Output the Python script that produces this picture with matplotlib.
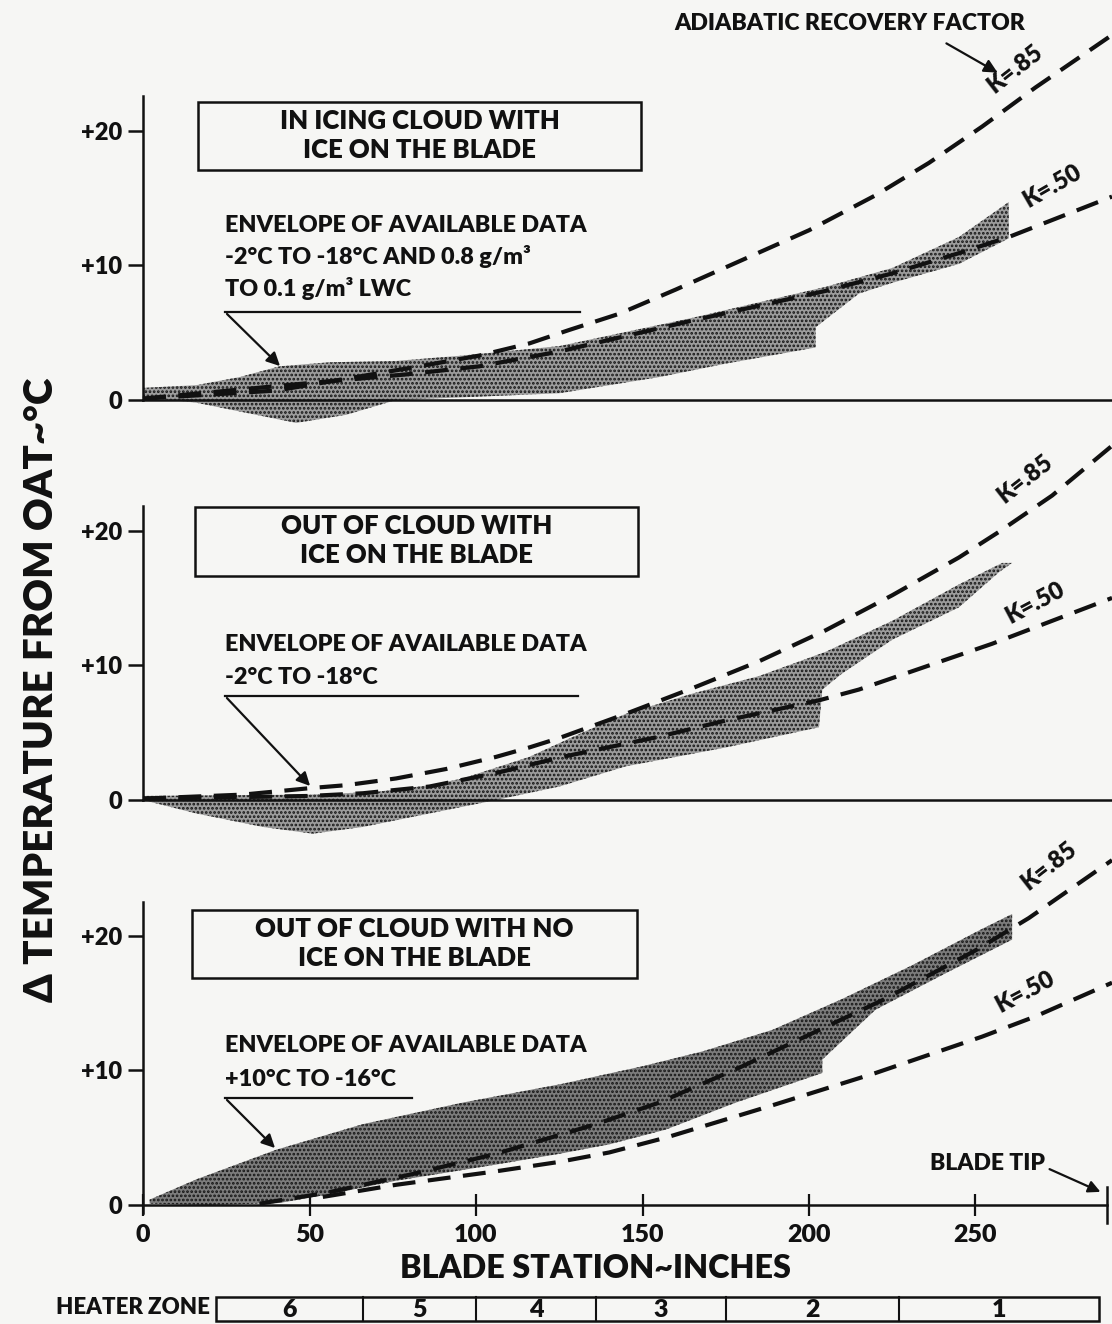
import matplotlib
matplotlib.use('Agg')
import matplotlib.pyplot as plt
import matplotlib.patches as mpatches
from matplotlib.lines import Line2D

plt.rcParams['font.family'] = ['Lato', 'DejaVu Sans']
plt.rcParams['font.weight'] = 'heavy'
plt.rcParams['hatch.linewidth'] = 1.3

# ---- data (blade station in inches, delta T in deg C) ----
# panel 1: in icing cloud with ice on the blade
k85_x1 = [0, 40, 83, 101, 116, 128, 143, 160, 180, 200, 220, 236, 252, 268, 291]
k85_y1 = [0.1, 0.7, 2.5, 3.3, 4.2, 5.2, 6.4, 8.2, 10.4, 12.6, 15.2, 17.6, 20.3, 23.2, 27.1]
k50_x1 = [0, 43, 79, 101, 125, 165, 205, 225, 245, 260, 291]
k50_y1 = [0.1, 1.1, 1.9, 2.5, 3.6, 5.9, 8.1, 9.4, 10.9, 12.1, 15.1]
env_x1 = [0, 16, 29, 41, 56, 76, 96, 125, 165, 205, 225, 245, 260,
          260, 245, 225, 215, 202, 202, 175, 155, 125, 96, 76, 61, 46, 36, 16, 0]
env_y1 = [0.9, 1.1, 1.7, 2.5, 2.8, 2.9, 3.3, 4.0, 6.1, 8.4, 9.8, 12.1, 14.7,
          12.0, 10.1, 8.7, 7.9, 5.4, 3.9, 2.7, 1.7, 0.5, 0.2, 0.0, -1.1, -1.7, -1.2, -0.2, 0.2]

# panel 2: out of cloud with ice on the blade
k85_x2 = [0, 30, 51, 61, 76, 91, 106, 116, 125, 145, 165, 185, 205, 225, 245, 257, 273, 291]
k85_y2 = [0.1, 0.4, 0.9, 1.1, 1.6, 2.3, 3.2, 3.9, 4.6, 6.4, 8.3, 10.3, 12.6, 15.2, 18.0, 19.9, 22.6, 26.3]
k50_x2 = [0, 50, 66, 86, 106, 126, 155, 175, 203, 215, 235, 255, 291]
k50_y2 = [0.1, 0.3, 0.5, 1.0, 2.0, 3.2, 4.7, 5.9, 7.4, 8.2, 9.9, 11.6, 15.0]
env_x2 = [0, 50, 70, 86, 96, 116, 131, 145, 165, 185, 205, 225, 245, 258, 261,
          257, 245, 225, 210, 204, 203, 175, 145, 125, 106, 86, 66, 51, 36, 16, 0]
env_y2 = [0.3, 0.4, 0.6, 1.1, 1.6, 3.2, 4.9, 6.4, 7.9, 9.2, 11.0, 13.3, 16.0, 17.6, 17.6,
          16.9, 14.3, 11.9, 9.4, 8.2, 5.4, 3.9, 2.5, 1.0, 0.0, -1.0, -2.0, -2.5, -2.0, -1.0, 0.0]

# panel 3: out of cloud with no ice on the blade
k85_x3 = [35, 55, 81, 106, 121, 136, 155, 180, 222, 250, 266, 291]
k85_y3 = [0.1, 0.9, 2.3, 3.8, 4.9, 6.0, 7.6, 10.3, 15.2, 18.9, 21.3, 25.6]
k50_x3 = [54, 76, 106, 125, 140, 157, 189, 220, 252, 268, 291]
k50_y3 = [0.6, 1.5, 2.5, 3.2, 3.9, 5.0, 7.4, 9.8, 12.5, 14.0, 16.5]
env_x3 = [2, 16, 40, 66, 96, 126, 150, 168, 189, 210, 231, 252, 261,
          261, 241, 220, 204, 204, 178, 157, 140, 125, 106, 76, 56, 41, 20, 2]
env_y3 = [0.4, 1.9, 4.1, 6.0, 7.6, 9.0, 10.3, 11.4, 13.0, 15.3, 17.8, 20.5, 21.6,
          19.7, 17.2, 14.5, 10.8, 9.8, 7.6, 5.6, 4.5, 3.8, 3.0, 1.8, 0.8, 0.15, 0.0, 0.1]

titles = [['IN ICING CLOUD WITH', 'ICE ON THE BLADE'],
          ['OUT OF CLOUD WITH', 'ICE ON THE BLADE'],
          ['OUT OF CLOUD WITH NO', 'ICE ON THE BLADE']]
notes = [['ENVELOPE OF AVAILABLE DATA', '-2°C TO -18°C AND 0.8 g/m³', 'TO 0.1 g/m³ LWC'],
         ['ENVELOPE OF AVAILABLE DATA', '-2°C TO -18°C'],
         ['ENVELOPE OF AVAILABLE DATA', '+10°C TO -16°C']]
ytick_vals = [0, 10, 20]
ytick_labels = ['0', '+10', '+20']
xtick_vals = [0, 50, 100, 150, 200, 250]
blade_tip = 289.5
zone_edges = [22, 66, 100, 136, 175, 227, 287]
zone_names = ['6', '5', '4', '3', '2', '1']

# ---- layout (pixels of the 1112 x 1324 figure) ----
W, H = 1112, 1324
PX0, SX, SY = 143, 3.33, 13.47
XMAX = 291
YMIN, YMAX = -3, 28
INK = '#111111'


def fx(px):
    return px / W


def fy(py):
    return 1 - py / H


fig = plt.figure(figsize=(W / 100, H / 100), dpi=100)
fig.patch.set_facecolor('#f6f6f4')


def make_panel(y0, spine_top, spine_bot, line_end):
    bot = y0 - YMIN * SY
    top = y0 - YMAX * SY
    ax = fig.add_axes([fx(PX0), fy(bot), XMAX * SX / W, (bot - top) / H])
    ax.set_xlim(0, XMAX)
    ax.set_ylim(YMIN, YMAX)
    ax.patch.set_alpha(0)
    ax.spines['top'].set_visible(False)
    ax.spines['right'].set_visible(False)
    ax.spines['left'].set_bounds(spine_bot, spine_top)
    ax.spines['left'].set_linewidth(1.8)
    ax.spines['left'].set_color(INK)
    ax.spines['bottom'].set_position(('data', 0))
    ax.spines['bottom'].set_bounds(0, line_end)
    ax.spines['bottom'].set_linewidth(1.8)
    ax.spines['bottom'].set_color(INK)
    ax.set_yticks(ytick_vals)
    ax.set_yticklabels(ytick_labels)
    ax.tick_params(axis='y', length=11, width=1.8, direction='out', pad=4,
                   labelsize=17, colors=INK)
    return ax


def draw_data(ax, ex, ey, k85x, k85y, k50x, k50y, shade):
    ax.fill(ex, ey, facecolor=shade, edgecolor='#151515', hatch='....',
            linewidth=0, zorder=1)
    dash = (0, (5.5, 3))
    ax.plot(k85x, k85y, color=INK, lw=3.0, linestyle=dash, zorder=2, clip_on=False)
    ax.plot(k50x, k50y, color=INK, lw=3.0, linestyle=dash, zorder=2, clip_on=False)


ax1 = make_panel(400, 22.6, 0, XMAX)
ax2 = make_panel(800, 21.8, 0, XMAX)
ax3 = make_panel(1205, 22.5, -0.6, blade_tip)
for ax in (ax1, ax2):
    ax.set_xticks([])

draw_data(ax1, env_x1, env_y1, k85_x1, k85_y1, k50_x1, k50_y1, '#9c9c9c')
draw_data(ax2, env_x2, env_y2, k85_x2, k85_y2, k50_x2, k50_y2, '#9c9c9c')
draw_data(ax3, env_x3, env_y3, k85_x3, k85_y3, k50_x3, k50_y3, '#7c7c7c')

ax3.set_xticks(xtick_vals)
ax3.set_xticklabels([str(v) for v in xtick_vals])
ax3.tick_params(axis='x', length=16, width=1.6, direction='inout', pad=6,
                labelsize=18, colors=INK)
ax3.plot([blade_tip, blade_tip], [-1.3, 1.3], color=INK, lw=1.8, clip_on=False)

# K labels, set just above their curves
k_labels = [(ax1, 262, 24.6, 'K=.85', 38), (ax1, 273, 15.9, 'K=.50', 30),
            (ax2, 265, 23.8, 'K=.85', 38), (ax2, 268, 14.6, 'K=.50', 28),
            (ax3, 272, 25.2, 'K=.85', 38), (ax3, 265, 15.8, 'K=.50', 28)]
for ax, x, y, s, rot in k_labels:
    ax.text(x, y, s, rotation=rot, ha='center', va='center', fontsize=17,
            color=INK, clip_on=False)

# title boxes
boxes = [(198, 102, 641, 170), (195, 507, 638, 576), (192, 910, 637, 978)]
for (x0, y0, x1, y1), lines in zip(boxes, titles):
    fig.add_artist(mpatches.Rectangle((fx(x0), fy(y1)), (x1 - x0) / W, (y1 - y0) / H,
                                      transform=fig.transFigure, fill=False,
                                      lw=1.8, edgecolor=INK))
    cx = (x0 + x1) / 2
    fig.text(fx(cx), fy(y0 + 19), lines[0], ha='center', va='center', fontsize=18.5, color=INK)
    fig.text(fx(cx), fy(y0 + 48), lines[1], ha='center', va='center', fontsize=18.5, color=INK)

# envelope notes with leader arrows
note_y = [[225, 257, 289], [644, 678], [1046, 1079]]
leaders = [(225, 312, 580, 282, 368), (225, 696, 578, 312, 788), (225, 1098, 412, 277, 1150)]
for lines, ys, (lx0, ly, lx1, tx, ty) in zip(notes, note_y, leaders):
    for s, yy in zip(lines, ys):
        fig.text(fx(225), fy(yy), s, ha='left', va='center', fontsize=16.8, color=INK)
    fig.add_artist(Line2D([fx(lx0), fx(lx1)], [fy(ly), fy(ly)], lw=1.6, color=INK))
    fig.add_artist(mpatches.FancyArrowPatch((fx(lx0), fy(ly)), (fx(tx), fy(ty)),
                                            transform=fig.transFigure, arrowstyle='-|>',
                                            mutation_scale=20, lw=1.6, color=INK))

# adiabatic recovery factor note
fig.text(fx(850), fy(23), 'ADIABATIC RECOVERY FACTOR', ha='center', va='center',
         fontsize=16.6, color=INK)
fig.add_artist(mpatches.FancyArrowPatch((fx(944), fy(42)), (fx(1000), fy(74)),
                                        transform=fig.transFigure, arrowstyle='-|>',
                                        mutation_scale=20, lw=1.6, color=INK))

# blade tip note
fig.text(fx(988), fy(1163), 'BLADE TIP', ha='center', va='center', fontsize=16.5, color=INK)
fig.add_artist(mpatches.FancyArrowPatch((fx(1047), fy(1168)), (fx(1103), fy(1193)),
                                        transform=fig.transFigure, arrowstyle='-|>',
                                        mutation_scale=18, lw=1.6, color=INK))

# axis titles
fig.text(fx(42), fy(690), 'Δ TEMPERATURE FROM OAT~°C', rotation=90, ha='center',
         va='center', fontsize=29, color=INK)
fig.text(fx(595), fy(1268), 'BLADE STATION~INCHES', ha='center', va='center',
         fontsize=23.3, color=INK)

# heater zones
hz = fig.add_axes([fx(PX0), fy(1321), XMAX * SX / W, 24 / H])
hz.set_xlim(0, XMAX)
hz.set_ylim(0, 1)
hz.axis('off')
hz.add_patch(mpatches.Rectangle((zone_edges[0], 0), zone_edges[-1] - zone_edges[0], 1,
                                fill=False, lw=1.8, edgecolor=INK, clip_on=False))
for e in zone_edges[1:-1]:
    hz.plot([e, e], [0, 1], color=INK, lw=1.5, clip_on=False)
for a, b, name in zip(zone_edges[:-1], zone_edges[1:], zone_names):
    hz.text((a + b) / 2, 0.45, name, ha='center', va='center', fontsize=18, color=INK)
fig.text(fx(210), fy(1308), 'HEATER ZONE', ha='right', va='center', fontsize=16, color=INK)

fig.savefig('out.png', dpi=100, facecolor=fig.get_facecolor())
